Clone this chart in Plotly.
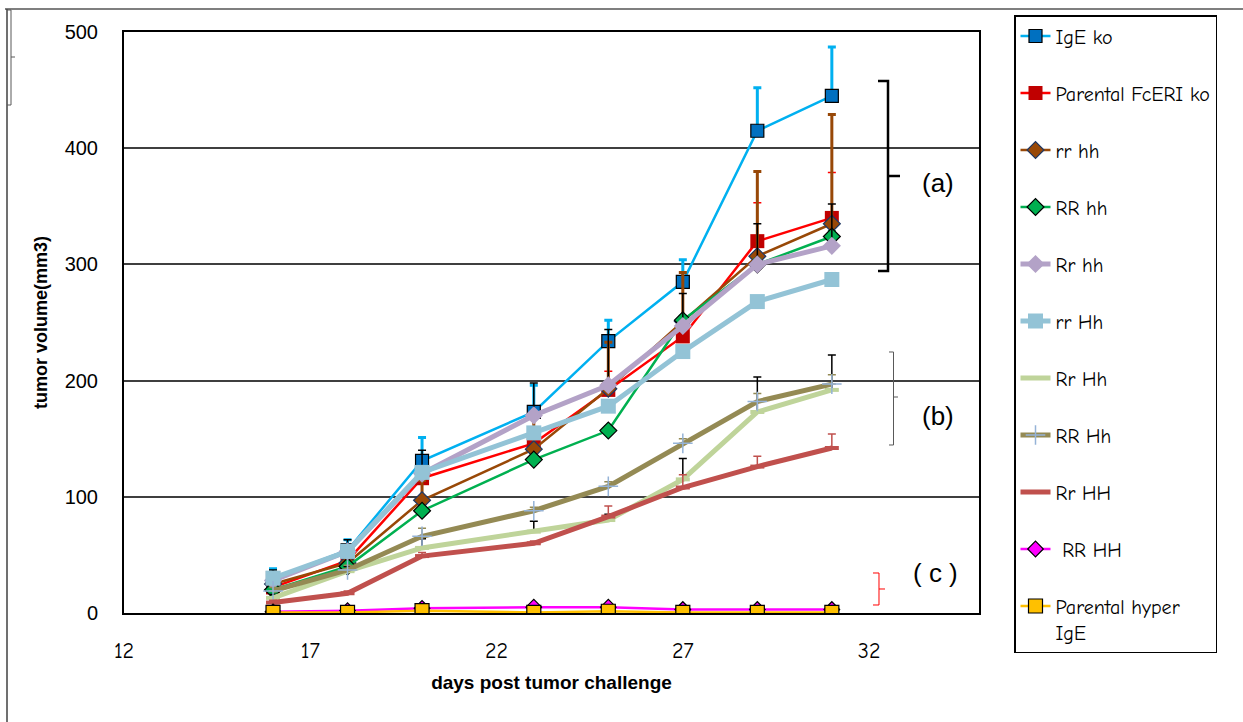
import plotly.graph_objects as go

# ---------------- data ----------------
days = [16, 18, 20, 23, 25, 27, 29, 31]

ige_ko = [30, 54, 131, 173, 234, 285, 415, 445]
ige_ko_err = [8, 9, 20, 23, 18, 19, 37, 42]

parental_fceri = [22, 45, 116, 146, 192, 238, 320, 340]
parental_fceri_err = [3, 5, 8, 10, 16, 12, 33, 39]

rr_hh = [25, 43, 97, 141, 193, 251, 307, 335]
rr_hh_err = [6, 8, 17, 30, 40, 42, 73, 94]

RR_hh = [20, 40, 88, 132, 157, 252, 300, 324]
RR_hh_err = [2, 3, 4, 4, 4, 4, 5, 5]

Rr_hh = [28, 53, 120, 170, 196, 247, 300, 316]
Rr_hh_err = [9, 10, 20, 28, 48, 28, 35, 36]

rr_Hh = [30, 53, 121, 155, 178, 225, 268, 287]
rr_Hh_err = [2, 3, 3, 3, 3, 3, 3, 3]

Rr_Hh = [13, 36, 56, 70, 80, 115, 173, 192]
Rr_Hh_err = [3, 4, 8, 9, 5, 18, 30, 30]

RR_Hh = [19, 37, 66, 88, 109, 146, 182, 197]
RR_Hh_err = [3, 4, 7, 3, 4, 4, 7, 8]

Rr_HH = [9, 17, 49, 60, 83, 108, 126, 142]
Rr_HH_err = [2, 2, 3, 2, 9, 11, 9, 12]

RR_HH = [1, 2, 4, 5, 5, 3, 3, 3]
RR_HH_err = [1, 1, 1, 1, 1, 1, 1, 1]

parental_hyper = [0.5, 0.5, 2, 0.5, 1.5, 0.5, 0.5, 0.5]
parental_hyper_err = [1, 1, 1, 1, 1, 1, 1, 1]

x_ticks = [12, 17, 22, 27, 32]
y_ticks = [0, 100, 200, 300, 400, 500]

# ---------------- styles ----------------
series = [
    dict(name="IgE ko", y=ige_ko, err=ige_ko_err, line="#00B0F0", lw=2.5,
         sym="square", mfill="#0070C0", mline="#000000", mlw=1.2, ms=13,
         ecol="#00B0F0", ew=3),
    dict(name="Parental FcERI ko", y=parental_fceri, err=parental_fceri_err, line="#FF0000", lw=2.5,
         sym="square", mfill="#C00000", mline="#C00000", mlw=0, ms=14,
         ecol="#FF0000", ew=1.5),
    dict(name="rr hh", y=rr_hh, err=rr_hh_err, line="#984807", lw=2.5,
         sym="diamond", mfill="#984807", mline="#1F3864", mlw=1.2, ms=13,
         ecol="#984807", ew=3),
    dict(name="RR hh", y=RR_hh, err=RR_hh_err, line="#00B050", lw=2.5,
         sym="diamond", mfill="#00B050", mline="#000000", mlw=1.2, ms=13,
         ecol="#00B050", ew=1.5),
    dict(name="Rr hh", y=Rr_hh, err=Rr_hh_err, line="#B3A2C7", lw=5,
         sym="diamond", mfill="#B3A2C7", mline="#B3A2C7", mlw=0, ms=14,
         ecol="#000000", ew=1.5),
    dict(name="rr Hh", y=rr_Hh, err=rr_Hh_err, line="#93C3D6", lw=5,
         sym="square", mfill="#93C3D6", mline="#93C3D6", mlw=0, ms=15,
         ecol="#93C3D6", ew=1.5),
    dict(name="Rr Hh", y=Rr_Hh, err=Rr_Hh_err, line="#BFD49A", lw=5,
         sym="line-ew", mfill="#BFD49A", mline="#BFD49A", mlw=4, ms=10,
         ecol="#000000", ew=1.5),
    dict(name="RR Hh", y=RR_Hh, err=RR_Hh_err, line="#948A54", lw=5,
         sym="cross-thin", mfill="#95B3D7", mline="#95B3D7", mlw=1.5, ms=14,
         ecol="#948A54", ew=1.5),
    dict(name="Rr HH", y=Rr_HH, err=Rr_HH_err, line="#C0504D", lw=5,
         sym="line-ew", mfill="#C0504D", mline="#C0504D", mlw=4, ms=10,
         ecol="#C0504D", ew=1.5),
    dict(name="\u00a0RR HH", y=RR_HH, err=RR_HH_err, line="#FF00FF", lw=2.5,
         sym="diamond", mfill="#FF00FF", mline="#000000", mlw=1.2, ms=12,
         ecol="#000000", ew=1.2),
    dict(name="Parental hyper<br>IgE", y=parental_hyper, err=parental_hyper_err, line="#FFC000", lw=2.5,
         sym="square", mfill="#FFC000", mline="#000000", mlw=1.2, ms=14,
         ecol="#000000", ew=1.2),
]

fig = go.Figure()
for i, s in enumerate(series):
    fig.add_trace(go.Scatter(
        x=days, y=s["y"], name=s["name"], mode="lines+markers",
        legendgroup=f"g{i}",
        line=dict(color=s["line"], width=s["lw"]),
        marker=dict(symbol=s["sym"], size=s["ms"], color=s["mfill"],
                    line=dict(color=s["mline"], width=s["mlw"])),
        error_y=dict(type="data", symmetric=False, array=s["err"],
                     arrayminus=[0] * len(s["err"]),
                     color=s["ecol"], thickness=s["ew"], width=4),
    ))

# ---------------- decorations (pixel -> paper helper) ----------------
L, R, T, B = 124, 979, 32, 613
W, H = 1243, 722


def px(xp, yp):
    return (xp - L) / (R - L), (B - yp) / (B - T)


def path(points):
    pts = [px(a, b) for a, b in points]
    return "M " + " L ".join(f"{a:.5f},{b:.5f}" for a, b in pts)


shapes = []


def add_path(points, color, width):
    shapes.append(dict(type="path", xref="paper", yref="paper", path=path(points),
                       line=dict(color=color, width=width), layer="above"))


# outer frame
add_path([(5, 9), (1243, 9)], "#7F7F7F", 2)
add_path([(7, 9), (7, 722)], "#404040", 1.5)
# top-left small bracket
add_path([(7, 10), (11, 10), (11, 105), (7, 105)], "#595959", 1)
add_path([(11, 57), (15, 57)], "#595959", 1)
# (a) bracket
add_path([(878, 81), (888, 81), (888, 271), (878, 271)], "#000000", 2.5)
add_path([(888, 176), (900, 176)], "#000000", 2.5)
# (b) bracket
add_path([(889, 352), (893.5, 352), (893.5, 445), (889, 445)], "#595959", 1)
add_path([(893.5, 397), (898, 397)], "#595959", 1)
# (c) bracket
add_path([(873, 573), (879, 573), (879, 605), (873, 605)], "#FF0000", 1)
add_path([(879, 589), (885, 589)], "#FF0000", 1)

annotations = []
for label, (xp, yp) in [("(a)", (938, 183)), ("(b)", (938, 416)), ("( c )", (935, 573))]:
    ax_, ay_ = px(xp, yp)
    annotations.append(dict(text=label, x=ax_, y=ay_, xref="paper", yref="paper",
                            showarrow=False, xanchor="center", yanchor="middle",
                            font=dict(family="Liberation Sans, Arial", size=26, color="#000000")))

leg_x, leg_y = px(1014, 15)

fig.update_layout(
    width=W, height=H,
    margin=dict(l=L, r=W - R, t=T, b=H - B, pad=0),
    paper_bgcolor="white", plot_bgcolor="white",
    font=dict(family="Comic Sans MS, Comic Neue, Liberation Sans, Arial", color="#000000"),
    shapes=shapes,
    annotations=annotations,
    legend=dict(
        x=leg_x, y=leg_y, xanchor="left", yanchor="top",
        bordercolor="#000000", borderwidth=1.5, bgcolor="white",
        font=dict(family="Comic Sans MS, Comic Neue, Liberation Sans, Arial", size=20, color="#000000"),
        tracegroupgap=28, valign="top", traceorder="grouped",
        itemwidth=30, maxheight=705,
    ),
    xaxis=dict(
        range=[12, 34.95], tickvals=x_ticks, ticktext=[str(v) for v in x_ticks],
        showgrid=False, zeroline=False,
        showline=True, linecolor="#000000", linewidth=2, mirror=True,
        ticks="", ticklabelstandoff=17,
        tickfont=dict(family="Comic Sans MS, Comic Neue, Liberation Sans, Arial", size=22, color="#000000"),
        title=dict(text="<b>days post tumor challenge</b>", standoff=12,
                   font=dict(family="Liberation Sans, Arial", size=19, color="#000000")),
    ),
    yaxis=dict(
        range=[0, 500], tickvals=y_ticks,
        showgrid=True, gridcolor="#3F3F3F", gridwidth=1.5,
        zeroline=False,
        showline=True, linecolor="#000000", linewidth=2, mirror=True,
        ticks="", ticklabelstandoff=20,
        tickfont=dict(family="Liberation Sans, Arial", size=20, color="#000000"),
        title=dict(text="<b>tumor volume(mm3)</b>", standoff=12,
                   font=dict(family="Liberation Sans, Arial", size=18, color="#000000")),
    ),
    showlegend=True,
)

fig.write_html("out.html")
